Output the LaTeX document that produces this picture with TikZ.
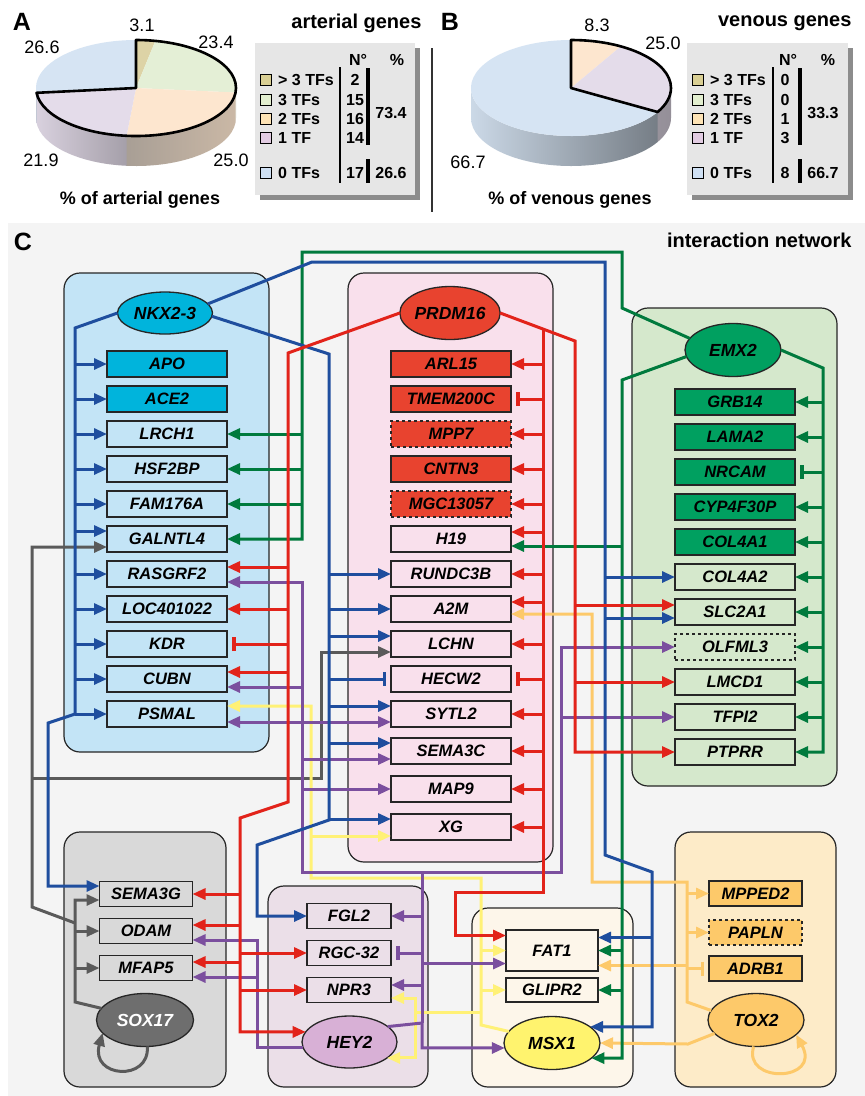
\documentclass[tikz,border=0pt]{standalone}
\usepackage{fontspec}
\setmainfont{Liberation Sans}
\usepackage{tikz}
\usetikzlibrary{arrows.meta,positioning,shapes.geometric,shadows}

% line colours
\definecolor{lnblue}{HTML}{1F4E9E}
\definecolor{lnred}{HTML}{E2231A}
\definecolor{lngreen}{HTML}{007A3D}
\definecolor{lnpurple}{HTML}{7B4F9E}
\definecolor{lngray}{HTML}{5A5A5A}
\definecolor{lnyellow}{HTML}{FFF176}
\definecolor{lnorange}{HTML}{FDC96A}
% cluster colours
\definecolor{nkxdark}{HTML}{00B4DC}
\definecolor{nkxlight}{HTML}{C3E4F6}
\definecolor{prddark}{HTML}{E8432F}
\definecolor{prdlight}{HTML}{F9E0EC}
\definecolor{emxdark}{HTML}{00A060}
\definecolor{emxlight}{HTML}{D5E8CC}
\definecolor{soxdark}{HTML}{6E6E6E}
\definecolor{soxlight}{HTML}{D9D9D9}
\definecolor{heydark}{HTML}{D8B0D6}
\definecolor{heylight}{HTML}{EBDFE8}
\definecolor{msxdark}{HTML}{FFF36E}
\definecolor{msxlight}{HTML}{FDF6EA}
\definecolor{toxdark}{HTML}{FDC96A}
\definecolor{toxlight}{HTML}{FDEBC8}
\definecolor{panelbg}{HTML}{F4F4F4}
\definecolor{legbg}{HTML}{E6E6E6}
% pie colours
\definecolor{pkhaki}{HTML}{DDD3A6}
\definecolor{pgreen}{HTML}{E4EFD6}
\definecolor{ppeach}{HTML}{FDE6CF}
\definecolor{plav}{HTML}{E4DCEA}
\definecolor{pblue}{HTML}{D6E4F3}
\definecolor{sqkhaki}{HTML}{D9CF94}
\definecolor{sqgreen}{HTML}{E2EECF}
\definecolor{sqpeach}{HTML}{FDE3B5}
\definecolor{sqlav}{HTML}{E2CCE2}
\definecolor{sqblue}{HTML}{CFE0F3}

\newcommand{\genefont}{\fontsize{16.5pt}{18pt}\selectfont\bfseries\itshape}
\newcommand{\tffont}{\fontsize{17.5pt}{19pt}\selectfont\bfseries\itshape}
\newcommand{\pienum}{\fontsize{18pt}{20pt}\selectfont}
\newcommand{\legfont}{\fontsize{16pt}{18pt}\selectfont\bfseries}
\newcommand{\headfont}{\fontsize{20pt}{22pt}\selectfont\bfseries}
\newcommand{\panelfont}{\fontsize{25pt}{27pt}\selectfont\bfseries}

\tikzset{%
  gene/.style={draw=black!85,line width=1.3pt,minimum width=120pt,minimum height=26pt,inner sep=0pt,outer sep=0pt,font=\genefont},
  gsmall/.style={minimum width=93pt,minimum height=25pt},
  tf/.style={ellipse,draw=black!85,line width=1.3pt,minimum width=96pt,minimum height=53pt,inner sep=0pt,outer sep=0pt,font=\tffont},
  cluster/.style={draw=black!85,line width=1.2pt,rounded corners=16pt},
  link/.style={line width=3pt,-{Triangle[length=13pt,width=11pt]}},
  inhib/.style={line width=3pt,-{Bar[width=14pt,line width=3.5pt]},shorten >=5pt},
  legbox/.style={fill=legbg,drop shadow={shadow xshift=5pt,shadow yshift=-5pt,fill=black!75,opacity=.6}},
  sq/.style={draw,line width=1pt,minimum size=11pt,inner sep=0pt},
  legtxt/.style={font=\legfont,inner sep=0pt},
  pielab/.style={font=\pienum,inner sep=0pt},
  pierad/.style={x radius=100,y radius=48}
}

\begin{document}
\begin{tikzpicture}[x=1pt,y=-1pt]
\useasboundingbox (0,0) rectangle (865,1096);
\fill[white] (0,0) rectangle (865,1096);

% ---------- A: arterial genes ----------
\node[font=\panelfont] (labA) at (22,22) {A};
\node[font=\headfont,anchor=east] (headA) at (425,23) {arterial genes};

\fill[pgreen!75!black!60] (136,88) ++(360:100 and 48) arc[pierad,start angle=360,end angle=365.4] -- ++(0,30) arc[pierad,start angle=365.4,end angle=360] -- cycle;
\path[left color=ppeach!55!black!75,right color=ppeach!80!black] (136,88) ++(365.4:100 and 48) arc[pierad,start angle=365.4,end angle=455.4] -- ++(0,30) arc[pierad,start angle=455.4,end angle=365.4] -- cycle;
\path[left color=plav!95!black,right color=plav!70!black] (136,88) ++(455.4:100 and 48) arc[pierad,start angle=455.4,end angle=534.24] -- ++(0,30) arc[pierad,start angle=534.24,end angle=455.4] -- cycle;
\fill[pblue!85!black] (136,88) ++(534.24:100 and 48) arc[pierad,start angle=534.24,end angle=540] -- ++(0,30) arc[pierad,start angle=540,end angle=534.24] -- cycle;

\fill[pkhaki] (136,88) -- ++(270:100 and 48) arc[pierad,start angle=270,end angle=281.16] -- cycle;
\fill[pgreen] (136,88) -- ++(281.16:100 and 48) arc[pierad,start angle=281.16,end angle=365.4] -- cycle;
\fill[ppeach] (136,88) -- ++(365.4:100 and 48) arc[pierad,start angle=365.4,end angle=455.4] -- cycle;
\fill[plav] (136,88) -- ++(455.4:100 and 48) arc[pierad,start angle=455.4,end angle=534.24] -- cycle;
\fill[pblue] (136,88) -- ++(534.24:100 and 48) arc[pierad,start angle=534.24,end angle=630] -- cycle;
\draw[line width=2.6pt,line join=round] (136,88) -- ++(270:100 and 48) arc[pierad,start angle=270,end angle=534.24] -- cycle;

\node[pielab] (a31) at (142,25) {3.1};
\node[pielab] (a234) at (216,42) {23.4};
\node[pielab] (a266) at (42,47) {26.6};
\node[pielab] (a219) at (41,160) {21.9};
\node[pielab] (a250) at (231,160) {25.0};
\node[font=\fontsize{18pt}{20pt}\selectfont\bfseries] (capA) at (140,200) {\% of arterial genes};

\fill[legbox] (255,43) rectangle (415,195);
\node[legtxt] (aNo) at (358,60) {N°};
\node[legtxt] (aPc) at (397,60) {\%};
\node[sq,fill=sqkhaki] (aS1) at (266,80) {};
\node[sq,fill=sqgreen] (aS2) at (266,100) {};
\node[sq,fill=sqpeach] (aS3) at (266,119) {};
\node[sq,fill=sqlav] (aS4) at (266,138) {};
\node[sq,fill=sqblue] (aS5) at (266,173) {};
\node[legtxt,anchor=west] (aT1) at (278,80) {> 3 TFs};
\node[legtxt,anchor=west] (aT2) at (278,100) {3 TFs};
\node[legtxt,anchor=west] (aT3) at (278,119) {2 TFs};
\node[legtxt,anchor=west] (aT4) at (278,138) {1 TF};
\node[legtxt,anchor=west] (aT5) at (278,173) {0 TFs};
\node[legtxt] (aN1) at (355,80) {2};
\node[legtxt] (aN2) at (355,100) {15};
\node[legtxt] (aN3) at (355,119) {16};
\node[legtxt] (aN4) at (355,138) {14};
\node[legtxt] (aN5) at (355,173) {17};
\draw[line width=1.3pt] (340,67) -- (340,183);
\draw[line width=3.5pt] (368,68) -- (368,145);
\draw[line width=3.5pt] (368,159) -- (368,183);
\node[legtxt] (aV1) at (391,113) {73.4};
\node[legtxt] (aV2) at (391,173) {26.6};

\draw[line width=1.5pt,black!80] (432,48) -- (432,212);

% ---------- B: venous genes ----------
\node[font=\panelfont] (labB) at (450,22) {B};
\node[font=\headfont,anchor=east] (headB) at (855,23) {venous genes};

\path[left color=plav!75!black,right color=plav!65!black] (571,88) ++(360:100 and 48) arc[pierad,start angle=360,end angle=390] -- ++(0,30) arc[pierad,start angle=390,end angle=360] -- cycle;
\path[left color=pblue!95!black,right color=pblue!55!black] (571,88) ++(390:100 and 48) arc[pierad,start angle=390,end angle=540] -- ++(0,30) arc[pierad,start angle=540,end angle=390] -- cycle;

\fill[ppeach] (571,88) -- ++(270:100 and 48) arc[pierad,start angle=270,end angle=299.88] -- cycle;
\fill[plav] (571,88) -- ++(299.88:100 and 48) arc[pierad,start angle=299.88,end angle=390] -- cycle;
\fill[pblue] (571,88) -- ++(390:100 and 48) arc[pierad,start angle=390,end angle=630] -- cycle;
\draw[line width=2.6pt,line join=round] (571,88) -- ++(270:100 and 48) arc[pierad,start angle=270,end angle=390] -- cycle;

\node[pielab] (b83) at (597,25) {8.3};
\node[pielab] (b250) at (663,43) {25.0};
\node[pielab] (b667) at (468,162) {66.7};
\node[font=\fontsize{18pt}{20pt}\selectfont\bfseries] (capB) at (570,200) {\% of venous genes};

\fill[legbox] (687,43) rectangle (848,195);
\node[legtxt] (bNo) at (788,60) {N°};
\node[legtxt] (bPc) at (828,60) {\%};
\node[sq,fill=sqkhaki] (bS1) at (698,80) {};
\node[sq,fill=sqgreen] (bS2) at (698,100) {};
\node[sq,fill=sqpeach] (bS3) at (698,119) {};
\node[sq,fill=sqlav] (bS4) at (698,138) {};
\node[sq,fill=sqblue] (bS5) at (698,173) {};
\node[legtxt,anchor=west] (bT1) at (710,80) {> 3 TFs};
\node[legtxt,anchor=west] (bT2) at (710,100) {3 TFs};
\node[legtxt,anchor=west] (bT3) at (710,119) {2 TFs};
\node[legtxt,anchor=west] (bT4) at (710,138) {1 TF};
\node[legtxt,anchor=west] (bT5) at (710,173) {0 TFs};
\node[legtxt] (bN1) at (785,80) {0};
\node[legtxt] (bN2) at (785,100) {0};
\node[legtxt] (bN3) at (785,119) {1};
\node[legtxt] (bN4) at (785,138) {3};
\node[legtxt] (bN5) at (785,173) {8};
\draw[line width=1.3pt] (773,67) -- (773,183);
\draw[line width=3.5pt] (800,68) -- (800,145);
\draw[line width=3.5pt] (800,159) -- (800,183);
\node[legtxt] (bV1) at (823,113) {33.3};
\node[legtxt] (bV2) at (823,173) {66.7};

% ---------- C: interaction network ----------
\fill[panelbg] (8,223) rectangle (865,1096);
\node[font=\panelfont] (labC) at (23,242) {C};
\node[font=\headfont,anchor=east] (headC) at (855,240) {interaction network};

% clusters
\draw[cluster,fill=nkxlight] (64,273) rectangle (269,752);
\draw[cluster,fill=prdlight] (348,273) rectangle (553,862);
\draw[cluster,fill=emxlight] (632,308) rectangle (837,786);
\draw[cluster,fill=soxlight] (64,832) rectangle (226,1087);
\draw[cluster,fill=heylight] (268,886) rectangle (428,1087);
\draw[cluster,fill=msxlight] (472,908) rectangle (633,1087);
\draw[cluster,fill=toxlight] (675,832) rectangle (836,1087);

% transcription factors
\node[tf,fill=nkxdark,minimum width=95pt,minimum height=42pt] (nkx) at (165,313) {NKX2-3};
\node[tf,fill=prddark] (prdm) at (450,313) {PRDM16};
\node[tf,fill=emxdark] (emx) at (733,350) {EMX2};
\node[tf,fill=soxdark,text=white,minimum width=97pt] (sox) at (145,1020) {SOX17};
\node[tf,fill=heydark,minimum width=95pt,minimum height=52pt] (hey) at (349.5,1042) {HEY2};
\node[tf,fill=msxdark] (msx) at (552,1043) {MSX1};
\node[tf,fill=toxdark] (tox) at (756,1020) {TOX2};

% NKX2-3 targets
\node[gene,fill=nkxdark] (apo) at (167,364) {APO};
\node[gene,fill=nkxdark,below=9pt of apo] (ace2) {ACE2};
\node[gene,fill=nkxlight,below=9pt of ace2] (lrch1) {LRCH1};
\node[gene,fill=nkxlight,below=9pt of lrch1] (hsf2bp) {HSF2BP};
\node[gene,fill=nkxlight,below=9pt of hsf2bp] (fam176a) {FAM176A};
\node[gene,fill=nkxlight,below=9pt of fam176a] (galntl4) {GALNTL4};
\node[gene,fill=nkxlight,below=9pt of galntl4] (rasgrf2) {RASGRF2};
\node[gene,fill=nkxlight,below=9pt of rasgrf2] (loc401022) {LOC401022};
\node[gene,fill=nkxlight,below=9pt of loc401022] (kdr) {KDR};
\node[gene,fill=nkxlight,below=9pt of kdr] (cubn) {CUBN};
\node[gene,fill=nkxlight,below=9pt of cubn] (psmal) {PSMAL};

% PRDM16 targets
\node[gene,fill=prddark] (arl15) at (451,364) {ARL15};
\node[gene,fill=prddark,below=9pt of arl15] (tmem200c) {TMEM200C};
\node[gene,fill=prddark,dashed,below=9pt of tmem200c] (mpp7) {MPP7};
\node[gene,fill=prddark,below=9pt of mpp7] (cntn3) {CNTN3};
\node[gene,fill=prddark,dashed,below=9pt of cntn3] (mgc13057) {MGC13057};
\node[gene,fill=prdlight,below=9pt of mgc13057] (h19) {H19};
\node[gene,fill=prdlight,below=9pt of h19] (rundc3b) {RUNDC3B};
\node[gene,fill=prdlight,below=9pt of rundc3b] (a2m) {A2M};
\node[gene,fill=prdlight,below=9pt of a2m] (lchn) {LCHN};
\node[gene,fill=prdlight,below=9pt of lchn] (hecw2) {HECW2};
\node[gene,fill=prdlight,below=9pt of hecw2] (sytl2) {SYTL2};
\node[gene,fill=prdlight,below=11pt of sytl2] (sema3c) {SEMA3C};
\node[gene,fill=prdlight,below=12pt of sema3c] (map9) {MAP9};
\node[gene,fill=prdlight,below=12pt of map9] (xg) {XG};

% EMX2 targets
\node[gene,fill=emxdark] (grb14) at (735,402) {GRB14};
\node[gene,fill=emxdark,below=9pt of grb14] (lama2) {LAMA2};
\node[gene,fill=emxdark,below=9pt of lama2] (nrcam) {NRCAM};
\node[gene,fill=emxdark,below=9pt of nrcam] (cyp4f30p) {CYP4F30P};
\node[gene,fill=emxdark,below=9pt of cyp4f30p] (col4a1) {COL4A1};
\node[gene,fill=emxlight,below=9pt of col4a1] (col4a2) {COL4A2};
\node[gene,fill=emxlight,below=9pt of col4a2] (slc2a1) {SLC2A1};
\node[gene,fill=emxlight,dashed,below=9pt of slc2a1] (olfml3) {OLFML3};
\node[gene,fill=emxlight,below=9pt of olfml3] (lmcd1) {LMCD1};
\node[gene,fill=emxlight,below=9pt of lmcd1] (tfpi2) {TFPI2};
\node[gene,fill=emxlight,below=9pt of tfpi2] (ptprr) {PTPRR};

% SOX17 targets
\node[gene,gsmall,fill=soxlight] (sema3g) at (146,894) {SEMA3G};
\node[gene,gsmall,fill=soxlight,below=12pt of sema3g] (odam) {ODAM};
\node[gene,gsmall,fill=soxlight,below=12pt of odam] (mfap5) {MFAP5};

% HEY2 targets
\node[gene,gsmall,minimum width=84pt,fill=heylight] (fgl2) at (349,916) {FGL2};
\node[gene,gsmall,minimum width=84pt,fill=heylight,below=12pt of fgl2] (rgc32) {RGC-32};
\node[gene,gsmall,minimum width=84pt,fill=heylight,below=12pt of rgc32] (npr3) {NPR3};

% MSX1 targets
\node[gene,minimum width=92pt,minimum height=41pt,fill=msxlight] (fat1) at (552,950.5) {FAT1};
\node[gene,minimum width=92pt,minimum height=24pt,fill=msxlight,below=7pt of fat1] (glipr2) {GLIPR2};

% TOX2 targets
\node[gene,gsmall,fill=toxdark] (mpped2) at (755.5,893.5) {MPPED2};
\node[gene,gsmall,fill=toxdark,dashed,below=14pt of mpped2] (papln) {PAPLN};
\node[gene,gsmall,fill=toxdark,below=11pt of papln] (adrb1) {ADRB1};

% bus columns
\coordinate (bN) at (75,0);
\coordinate (bB) at (329,0);
\coordinate (bT) at (605,0);
\coordinate (bF) at (652,0);
\coordinate (rP) at (543,0);
\coordinate (rE) at (575,0);
\coordinate (rL) at (288,0);
\coordinate (rS) at (240,0);
\coordinate (gE) at (823,0);
\coordinate (gL) at (302,0);
\coordinate (gR) at (622,0);
\coordinate (kS) at (75,0);
\coordinate (pH) at (257,0);
\coordinate (pL) at (302,0);
\coordinate (pR) at (422,0);
\coordinate (pE) at (561,0);
\coordinate (yM) at (481,0);
\coordinate (yL) at (311,0);
\coordinate (oT) at (687,0);

% SOX17 (gray)
\draw[link,lngray] (sox.165) -- (75,1002) |- ([yshift=-6pt]sema3g.west);
\foreach \g in {odam,mfap5}{\draw[link,lngray] (kS |- \g.west) -- (\g.west);}
\draw[link,lngray] (75,923) -- (32,907) |- ([yshift=-8pt]galntl4.west);
\draw[link,lngray] (32,778) -- (321,778) |- ([yshift=-8pt]lchn.west);
\draw[link,lngray] (sox.-85) .. controls (150,1082) and (90,1078) .. (sox.-163);

% TOX2 (orange)
\draw[link,lnorange] (tox.168) -- (687,1002) -- (687,882) -- (592,882) |- ([yshift=-5pt]a2m.east);
\foreach \g in {mpped2,papln}{\draw[link,lnorange] (oT |- \g.west) -- (\g.west);}
\draw[inhib,lnorange] (oT |- adrb1.west) -- (adrb1.west);
\draw[link,lnorange] ([yshift=-15pt]fat1.east -| oT) -- ([yshift=-15pt]fat1.east);
\draw[link,lnorange] (tox.198) -- (688,1044) -- (msx.east);
\draw[link,lnorange] (tox.-95) .. controls (742,1084) and (822,1082) .. (tox.-20);

% MSX1 (yellow)
\draw[link,lnyellow] (msx.165) -- (481,1025) -- (481,878) -- (311,878) |- ([yshift=8pt]psmal.east);
\foreach \g in {fat1,glipr2}{\draw[link,lnyellow] (yM |- \g.west) -- (\g.west);}
\draw[link,lnyellow] ([yshift=-9pt]xg.west -| yL) -- ([yshift=-9pt]xg.west);
\draw[link,lnyellow] (481,1012) -- (415,1012) |- (hey.-23);
\draw[link,lnyellow] (415,1012) |- ([yshift=-8pt]npr3.east);

% HEY2 (purple)
\draw[link,lnpurple] (hey.187) -| ([yshift=-9pt]odam.east -| pH) -- ([yshift=-9pt]odam.east);
\draw[link,lnpurple] ([yshift=-9pt]mfap5.east -| pH) -- ([yshift=-9pt]mfap5.east);
\draw[link,lnpurple] (hey.22) -- (422,1023) |- (msx.186);
\draw[link,lnpurple] (422,1023) -- (422,872) -- (302,872) |- ([yshift=-8pt]rasgrf2.east);
\draw[link,lnpurple] (422,872) -- (561,872) |- (olfml3.west);
\draw[link,lnpurple] (pE |- tfpi2.west) -- (tfpi2.west);
\draw[link,lnpurple] (pR |- fgl2.east) -- (fgl2.east);
\draw[inhib,lnpurple] (pR |- rgc32.east) -- (rgc32.east);
\draw[link,lnpurple] ([yshift=5pt]npr3.east -| pR) -- ([yshift=5pt]npr3.east);
\draw[link,lnpurple] ([yshift=-13pt]fat1.west -| pR) -- ([yshift=-13pt]fat1.west);
\foreach \g in {cubn,psmal}{\draw[link,lnpurple] ([yshift=-8pt]\g.east -| pL) -- ([yshift=-8pt]\g.east);}
\foreach \g in {sytl2,sema3c}{\draw[link,lnpurple] ([yshift=-8pt]\g.west -| pL) -- ([yshift=-8pt]\g.west);}
\draw[link,lnpurple] (pL |- map9.west) -- (map9.west);

% EMX2 (green)
\draw[link,lngreen] (emx.east) -- (823,368) |- (ptprr.east);
\foreach \g in {grb14,lama2,cyp4f30p,col4a1,col4a2,slc2a1,olfml3,lmcd1,tfpi2}{\draw[link,lngreen] (gE |- \g.east) -- (\g.east);}
\draw[inhib,lngreen] (gE |- nrcam.east) -- (nrcam.east);
\draw[link,lngreen] (emx.165) -- (622,308) -- (622,252) -- (302,252) |- (galntl4.east);
\foreach \g in {lrch1,hsf2bp,fam176a}{\draw[link,lngreen] (gL |- \g.east) -- (\g.east);}
\draw[link,lngreen] (emx.188) -- (622,380) |- (msx.-21);
\draw[link,lngreen] ([yshift=-7pt]h19.east -| gR) -- ([yshift=-7pt]h19.east);
\foreach \g in {fat1,glipr2}{\draw[link,lngreen] (gR |- \g.east) -- (\g.east);}

% NKX2-3 (blue)
\draw[link,lnblue] (nkx.west) -- (75,328) -- (75,714) -- (48,723) |- ([yshift=8pt]sema3g.west);
\foreach \g in {apo,ace2,lrch1,hsf2bp,fam176a,rasgrf2,loc401022,kdr,cubn,psmal}{\draw[link,lnblue] (bN |- \g.west) -- (\g.west);}
\draw[link,lnblue] ([yshift=8pt]galntl4.west -| bN) -- ([yshift=8pt]galntl4.west);
\draw[link,lnblue] (nkx.-4) -- (329,354) -- (329,820) -- (257,845) |- (fgl2.west);
\foreach \g in {rundc3b,a2m}{\draw[link,lnblue] (bB |- \g.west) -- (\g.west);}
\foreach \g in {lchn,sytl2,sema3c,xg}{\draw[link,lnblue] ([yshift=8pt]\g.west -| bB) -- ([yshift=8pt]\g.west);}
\draw[inhib,lnblue] (bB |- hecw2.west) -- (hecw2.west);
\draw[link,lnblue] (nkx.12) -- (312,262) -- (605,262) -- (605,855) -- (652,872) |- (msx.23);
\draw[link,lnblue] (bT |- col4a2.west) -- (col4a2.west);
\draw[link,lnblue] ([yshift=-6pt]slc2a1.west -| bT) -- ([yshift=-6pt]slc2a1.west);
\draw[link,lnblue] ([yshift=13pt]fat1.east -| bF) -- ([yshift=13pt]fat1.east);

% PRDM16 (red)
\draw[link,lnred] (prdm.east) -- (575,341) |- (ptprr.west);
\draw[link,lnred] ([yshift=7pt]slc2a1.west -| rE) -- ([yshift=7pt]slc2a1.west);
\draw[link,lnred] (rE |- lmcd1.west) -- (lmcd1.west);
\draw[link,lnred] (543,329) -- (543,892) -- (455,892) |- ([yshift=15pt]fat1.west);
\foreach \g in {arl15,mpp7,cntn3,mgc13057,rundc3b,lchn,sytl2,sema3c,map9,xg}{\draw[link,lnred] (rP |- \g.east) -- (\g.east);}
\foreach \g in {h19,a2m}{\draw[link,lnred] ([yshift=7pt]\g.east -| rP) -- ([yshift=7pt]\g.east);}
\draw[inhib,lnred] (rP |- tmem200c.east) -- (tmem200c.east);
\draw[inhib,lnred] (rP |- hecw2.east) -- (hecw2.east);
\draw[link,lnred] (prdm.west) -- (288,353) -- (288,802) -- (240,818) |- (hey.167);
\foreach \g in {rasgrf2,cubn}{\draw[link,lnred] ([yshift=7pt]\g.east -| rL) -- ([yshift=7pt]\g.east);}
\draw[link,lnred] (rL |- loc401022.east) -- (loc401022.east);
\draw[inhib,lnred] (rL |- kdr.east) -- (kdr.east);
\draw[link,lnred] (rS |- sema3g.east) -- (sema3g.east);
\foreach \g in {odam,mfap5}{\draw[link,lnred] ([yshift=6pt]\g.east -| rS) -- ([yshift=6pt]\g.east);}
\foreach \g in {rgc32,npr3}{\draw[link,lnred] (rS |- \g.west) -- (\g.west);}

\end{tikzpicture}
\end{document}
